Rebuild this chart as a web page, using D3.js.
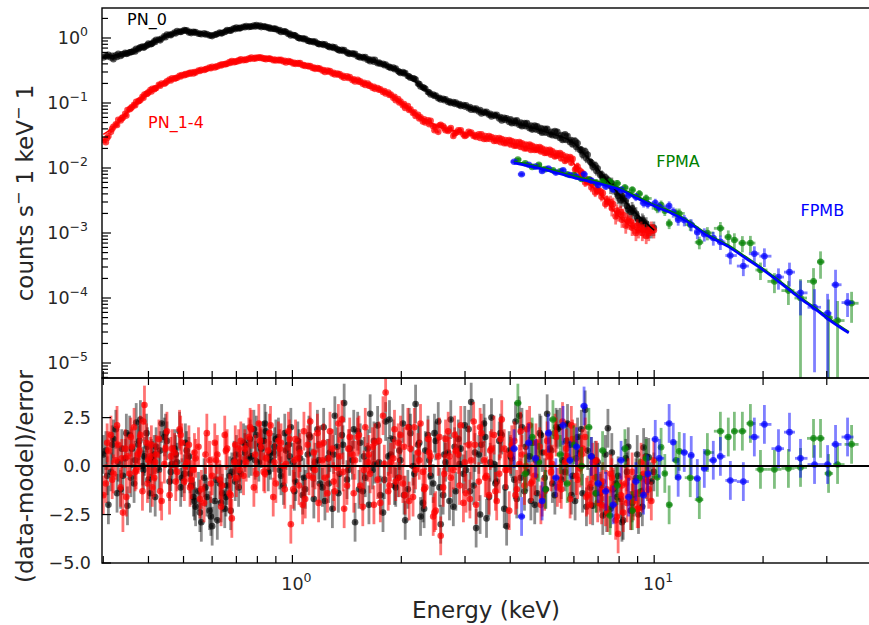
<!DOCTYPE html>
<html lang="en">
<head>
<meta charset="UTF-8">
<title>Spectrum PN + FPMA/FPMB</title>
<script src="https://d3js.org/d3.v7.min.js"></script>
<style>
    body { margin: 0; background: #ffffff; font-family: "DejaVu Sans", sans-serif; }
</style>
</head>
<body>
<div id="chart"></div>
<script>
// ---- data ----
// EPIC-pn energies (keV), shared by PN_0 and PN_1-4 (first grid)
const pnEnergy = [0.30, 0.31, 0.32, 0.33, 0.34, 0.35, 0.36, 0.37, 0.38, 0.39,
    0.40, 0.41, 0.42, 0.435, 0.45, 0.465, 0.48, 0.495, 0.51, 0.525,
    0.54, 0.56, 0.58, 0.60, 0.62, 0.64, 0.66, 0.68, 0.70, 0.72,
    0.745, 0.77, 0.795, 0.82, 0.845, 0.87, 0.90, 0.93, 0.96, 0.99,
    1.02, 1.05, 1.085, 1.12, 1.155, 1.19, 1.23, 1.27, 1.31, 1.35,
    1.39, 1.44, 1.49, 1.54, 1.59, 1.64, 1.69, 1.75, 1.81, 1.87,
    1.93, 1.99, 2.05, 2.12, 2.19, 2.26, 2.33, 2.41, 2.49, 2.57,
    2.65, 2.74, 2.83, 2.92, 3.02, 3.12, 3.22, 3.33, 3.44, 3.55,
    3.67, 3.79, 3.91, 4.04, 4.17, 4.31, 4.45, 4.60, 4.75, 4.90,
    5.06, 5.23, 5.40, 5.58, 5.76, 5.95, 6.14, 6.34, 6.55, 6.76,
    6.98, 7.21, 7.45, 7.70, 7.95, 8.21, 8.48, 8.76, 9.05, 9.35, 9.66, 9.98];
// second grid, between the channels of the first one
const pnEnergyB = [0.305, 0.315, 0.325, 0.335, 0.345, 0.355, 0.365, 0.375, 0.385, 0.395,
    0.405, 0.415, 0.4275, 0.4425, 0.4575, 0.4725, 0.4875, 0.5025, 0.5175, 0.5325,
    0.55, 0.57, 0.59, 0.61, 0.63, 0.65, 0.67, 0.69, 0.71, 0.7325,
    0.7575, 0.7825, 0.8075, 0.8325, 0.8575, 0.885, 0.915, 0.945, 0.975, 1.005,
    1.035, 1.0675, 1.1025, 1.1375, 1.1725, 1.21, 1.25, 1.29, 1.33, 1.37,
    1.415, 1.465, 1.515, 1.565, 1.615, 1.665, 1.72, 1.78, 1.84, 1.90,
    1.96, 2.02, 2.085, 2.155, 2.225, 2.295, 2.37, 2.45, 2.53, 2.61,
    2.695, 2.785, 2.875, 2.97, 3.07, 3.17, 3.275, 3.385, 3.495, 3.61,
    3.73, 3.85, 3.975, 4.105, 4.24, 4.38, 4.525, 4.675, 4.825, 4.98,
    5.145, 5.315, 5.49, 5.67, 5.855, 6.045, 6.24, 6.445, 6.655, 6.87,
    7.095, 7.33, 7.575, 7.825, 8.08, 8.345, 8.62, 8.905, 9.20, 9.505, 9.82];
// third grid
const pnEnergyC = [0.3075, 0.3175, 0.3275, 0.3375, 0.3475, 0.3575, 0.3675, 0.3775, 0.3875, 0.3975,
    0.4075, 0.4175, 0.431, 0.446, 0.461, 0.476, 0.491, 0.506, 0.521, 0.536,
    0.555, 0.575, 0.595, 0.615, 0.635, 0.655, 0.675, 0.695, 0.715, 0.739,
    0.764, 0.789, 0.814, 0.839, 0.864, 0.8925, 0.9225, 0.9525, 0.9825, 1.0125,
    1.043, 1.076, 1.111, 1.146, 1.181, 1.22, 1.26, 1.30, 1.34, 1.38,
    1.4275, 1.4775, 1.5275, 1.5775, 1.6275, 1.68, 1.735, 1.795, 1.855, 1.915,
    1.975, 2.035, 2.1025, 2.1725, 2.2425, 2.3125, 2.39, 2.47, 2.55, 2.63,
    2.7175, 2.8075, 2.8975, 2.995, 3.095, 3.195, 3.3025, 3.4125, 3.5225, 3.64,
    3.76, 3.88, 4.0075, 4.1375, 4.275, 4.415, 4.5625, 4.7125, 4.8625, 5.02,
    5.1875, 5.3575, 5.535, 5.715, 5.9025, 6.0925, 6.29, 6.4975, 6.7075, 6.925,
    7.1525, 7.39, 7.6375, 7.8875, 8.145, 8.4125, 8.69, 8.9775, 9.275, 9.5825];

const pn0Flux = [0.50, 0.55, 0.47, 0.57, 0.56, 0.58, 0.61, 0.68, 0.72, 0.73,
    0.82, 0.83, 0.94, 0.98, 1.13, 1.15, 1.28, 1.27, 1.31, 1.19,
    1.23, 1.14, 1.15, 1.07, 1.16, 1.19, 1.33, 1.35, 1.45, 1.42,
    1.53, 1.49, 1.58, 1.47, 1.49, 1.39, 1.38, 1.24, 1.23, 1.09,
    1.08, 0.98, 0.97, 0.88, 0.88, 0.80, 0.80, 0.72, 0.72, 0.64,
    0.65, 0.57, 0.57, 0.50, 0.51, 0.44, 0.46, 0.40, 0.39, 0.345,
    0.34, 0.29, 0.29, 0.245, 0.23, 0.18, 0.165, 0.135, 0.13, 0.113,
    0.114, 0.10, 0.102, 0.09, 0.092, 0.079, 0.082, 0.069, 0.073, 0.062,
    0.066, 0.054, 0.058, 0.049, 0.054, 0.044, 0.049, 0.039, 0.044, 0.035,
    0.040, 0.032, 0.036, 0.027, 0.031, 0.023, 0.024, 0.016, 0.016, 0.0105,
    0.0098, 0.0070, 0.0066, 0.0052, 0.0037, 0.0034, 0.0023, 0.0022, 0.0016, 0.0015, 0.0011, 0.0012];
const pn0FluxB = [0.53, 0.50, 0.54, 0.53, 0.59, 0.60, 0.64, 0.67, 0.74, 0.76,
    0.80, 0.89, 0.95, 1.06, 1.12, 1.21, 1.25, 1.33, 1.22, 1.25,
    1.16, 1.18, 1.09, 1.12, 1.21, 1.24, 1.31, 1.41, 1.40, 1.49,
    1.48, 1.55, 1.52, 1.51, 1.43, 1.40, 1.30, 1.26, 1.15, 1.11,
    1.02, 0.99, 0.91, 0.89, 0.83, 0.81, 0.75, 0.73, 0.67, 0.66,
    0.60, 0.58, 0.52, 0.51, 0.46, 0.46, 0.41, 0.40, 0.36, 0.35,
    0.31, 0.30, 0.26, 0.24, 0.20, 0.175, 0.148, 0.135, 0.118, 0.116,
    0.104, 0.103, 0.094, 0.093, 0.083, 0.082, 0.074, 0.073, 0.066, 0.066,
    0.058, 0.059, 0.051, 0.053, 0.046, 0.049, 0.041, 0.045, 0.037, 0.040,
    0.033, 0.037, 0.029, 0.033, 0.025, 0.026, 0.019, 0.018, 0.0125, 0.0110,
    0.0078, 0.0072, 0.0053, 0.0048, 0.0032, 0.0031, 0.0021, 0.0020, 0.0014, 0.0014, 0.0011];
const pn0FluxC = [0.52, 0.53, 0.51, 0.56, 0.57, 0.61, 0.62, 0.70, 0.71, 0.78,
    0.81, 0.87, 0.92, 1.03, 1.10, 1.18, 1.24, 1.29, 1.25, 1.21,
    1.17, 1.13, 1.10, 1.13, 1.18, 1.27, 1.29, 1.37, 1.43, 1.46,
    1.52, 1.50, 1.55, 1.48, 1.45, 1.38, 1.33, 1.27, 1.17, 1.10,
    1.00, 0.96, 0.90, 0.86, 0.81, 0.78, 0.74, 0.70, 0.66, 0.63,
    0.58, 0.56, 0.52, 0.49, 0.47, 0.43, 0.42, 0.38, 0.36, 0.33,
    0.30, 0.285, 0.255, 0.235, 0.195, 0.17, 0.145, 0.128, 0.120, 0.110,
    0.106, 0.097, 0.096, 0.088, 0.087, 0.078, 0.078, 0.070, 0.068, 0.063,
    0.061, 0.055, 0.056, 0.049, 0.050, 0.044, 0.045, 0.039, 0.041, 0.035,
    0.036, 0.031, 0.032, 0.027, 0.027, 0.021, 0.019, 0.014, 0.012, 0.0090,
    0.0080, 0.0060, 0.0057, 0.0042, 0.0037, 0.0026, 0.0024, 0.0017, 0.0016, 0.0012];

const pn14Flux = [0.027, 0.031, 0.043, 0.055, 0.060, 0.078, 0.087, 0.104, 0.112, 0.135,
    0.146, 0.165, 0.170, 0.20, 0.215, 0.24, 0.245, 0.27, 0.275, 0.295,
    0.295, 0.325, 0.335, 0.36, 0.365, 0.395, 0.40, 0.44, 0.43, 0.47,
    0.46, 0.50, 0.49, 0.50, 0.47, 0.48, 0.45, 0.46, 0.42, 0.43,
    0.40, 0.41, 0.37, 0.37, 0.335, 0.34, 0.30, 0.31, 0.275, 0.28,
    0.245, 0.25, 0.215, 0.215, 0.19, 0.185, 0.165, 0.162, 0.14, 0.135,
    0.11, 0.105, 0.084, 0.08, 0.063, 0.06, 0.05, 0.053, 0.043, 0.046,
    0.038, 0.041, 0.035, 0.038, 0.032, 0.035, 0.030, 0.033, 0.028, 0.030,
    0.026, 0.028, 0.024, 0.026, 0.022, 0.024, 0.020, 0.022, 0.019, 0.020,
    0.017, 0.018, 0.0155, 0.016, 0.0135, 0.0138, 0.0105, 0.0083, 0.0062, 0.0058,
    0.0045, 0.0041, 0.0030, 0.0028, 0.0020, 0.0019, 0.0015, 0.0013, 0.0011, 0.0011, 0.0010, 0.0011];
const pn14FluxB = [0.025, 0.036, 0.047, 0.054, 0.068, 0.080, 0.094, 0.106, 0.125, 0.138,
    0.158, 0.163, 0.190, 0.198, 0.230, 0.236, 0.262, 0.268, 0.290, 0.285,
    0.315, 0.322, 0.350, 0.352, 0.385, 0.392, 0.425, 0.425, 0.455, 0.455,
    0.485, 0.480, 0.505, 0.480, 0.485, 0.455, 0.460, 0.435, 0.440, 0.405,
    0.410, 0.380, 0.375, 0.345, 0.345, 0.315, 0.315, 0.285, 0.285, 0.255,
    0.258, 0.225, 0.228, 0.198, 0.200, 0.172, 0.170, 0.148, 0.145, 0.120,
    0.115, 0.092, 0.090, 0.070, 0.066, 0.052, 0.054, 0.044, 0.036, 0.044,
    0.037, 0.031, 0.038, 0.033, 0.036, 0.031, 0.033, 0.028, 0.031, 0.026,
    0.029, 0.024, 0.027, 0.022, 0.025, 0.020, 0.023, 0.019, 0.021, 0.017,
    0.019, 0.015, 0.017, 0.0128, 0.0148, 0.0095, 0.0090, 0.0060, 0.0064, 0.0042,
    0.0044, 0.0028, 0.0030, 0.0018, 0.0021, 0.0013, 0.0015, 0.0010, 0.0012, 0.0009, 0.0012];
const pn14FluxC = [0.029, 0.040, 0.046, 0.058, 0.064, 0.083, 0.092, 0.108, 0.120, 0.140,
    0.150, 0.168, 0.185, 0.205, 0.222, 0.243, 0.255, 0.278, 0.283, 0.300,
    0.310, 0.330, 0.342, 0.365, 0.378, 0.402, 0.415, 0.438, 0.445, 0.468,
    0.478, 0.498, 0.493, 0.488, 0.478, 0.468, 0.452, 0.445, 0.428, 0.415,
    0.400, 0.385, 0.365, 0.352, 0.335, 0.322, 0.302, 0.292, 0.272, 0.262,
    0.242, 0.232, 0.212, 0.205, 0.185, 0.178, 0.160, 0.153, 0.133, 0.125,
    0.102, 0.096, 0.078, 0.072, 0.058, 0.056, 0.047, 0.038, 0.045, 0.041,
    0.039, 0.034, 0.036, 0.031, 0.034, 0.032, 0.029, 0.031, 0.028, 0.029,
    0.025, 0.027, 0.023, 0.025, 0.021, 0.023, 0.019, 0.021, 0.018, 0.019,
    0.016, 0.017, 0.014, 0.015, 0.012, 0.0098, 0.0075, 0.0066, 0.0050, 0.0047,
    0.0036, 0.0033, 0.0024, 0.0022, 0.0016, 0.0016, 0.0012, 0.0013, 0.0010, 0.0011];

const pn0Resid = [0.6, -2.0, 1.4, 0.2, -0.5, -2.05, 0.9, 2.25, 2.4, 0.5,
    -0.7, 0.3, 1.0, 2.2, 1.3, 0.1, 0.2, -0.6, 0.8, -1.0,
    -2.1, -2.9, -1.6, -3.1, -2.8, -1.4, -1.0, -0.3, 0.6, -0.4,
    1.1, 0.5, 1.6, 0.9, 1.8, 0.3, 1.4, -0.5, 0.8, 2.0,
    -0.8, 0.4, -1.2, 1.5, 0.2, -0.9, -1.8, 0.7, 2.6, -0.4,
    3.25, 0.9, -2.9, 1.2, -0.6, 2.7, 0.1, -1.5, 2.3, 0.6,
    -1.1, 0.3, -2.8, 1.7, 3.2, -2.6, 0.8, -0.5, 1.3, -3.0,
    0.2, 2.4, -1.3, 0.9, -0.2, 3.3, -3.2, 1.1, -2.7, 2.5,
    -0.8, 1.6, -3.1, 0.4, -1.7, 2.0, -0.3, 1.2, -1.4, 0.7,
    2.7, -0.9, 1.9, 0.3, 2.2, -0.5, 1.5, -1.4, 0.8, -2.05,
    0.2, -2.55, 1.95, -1.2, -0.5, -2.8, 1.0, -1.6, -2.5, 0.96, 0.45, -0.3];
const pn0ResidB = [0.8, -0.3, 1.9, -1.2, 0.4, 1.6, -0.9, 1.1, 0.0, 1.7,
    -1.4, 0.6, -0.2, 1.5, -0.8, 0.9, 1.8, -0.4, 0.5, -1.6,
    -1.3, -0.6, -2.3, -1.8, -0.9, -2.2, -0.5, 0.3, -1.1, 1.2,
    0.4, 1.9, 0.2, 1.3, -0.3, 0.7, 1.5, -1.0, 1.1, 0.2,
    1.3, -1.5, 0.6, -0.1, 1.9, -1.1, 0.4, -2.2, 1.0, 1.6,
    -0.7, 0.3, 1.8, -1.3, 0.9, -0.2, 2.1, -2.4, 0.5, 1.4,
    -0.6, 2.2, -1.2, 0.0, 1.1, -1.9, 1.6, -0.9, 2.3, -1.5,
    0.7, -2.1, 1.4, -0.4, 1.9, -1.0, 0.6, 2.2, -1.6, 0.1,
    1.3, -2.2, 0.8, -0.7, 2.6, -1.3, 0.5, -2.0, 1.7, -0.6,
    0.9, -1.5, 2.0, -0.3, 1.1, -1.8, 0.7, 2.9, -1.1, 0.3,
    -1.4, 0.6, -2.2, -0.9, -1.7, 0.4, -2.3, -0.6, -1.3, 0.5, -0.8];
const pn0ResidC = [-0.5, 1.1, -1.4, 0.9, 1.7, -0.6, 0.3, 1.3, -0.2, 1.0,
    0.4, -1.6, 0.8, 1.7, -0.3, 0.6, -1.1, 1.2, -0.4, -1.8,
    -2.4, -1.1, -2.6, -0.7, -1.9, -1.6, -2.3, -0.8, 0.2, 0.7,
    1.4, 0.3, 1.1, 2.2, 0.6, 1.0, -0.2, 1.7, 0.5, -1.3,
    0.9, -0.6, 1.6, -1.7, 0.3, 2.0, -0.9, 0.6, -1.4, 1.1,
    -0.2, 1.9, -1.2, 0.5, -2.0, 1.3, 0.2, -0.7, 2.4, -1.0,
    0.8, -1.5, 2.0, -0.4, 1.2, -2.2, 0.3, 1.7, -1.1, 0.6,
    -1.8, 1.0, 0.1, 2.1, -1.3, 0.7, -2.5, 1.5, 0.2, -0.9,
    1.7, -1.1, 0.5, 2.3, -0.6, 1.0, -1.8, 0.3, 1.6, -1.2,
    0.8, 2.0, -0.7, 1.3, -1.5, 0.4, 1.9, -2.1, 0.5, -1.4,
    -1.0, -2.4, 0.7, -1.6, -2.9, -0.3, -1.9, 0.6, -2.1, -0.8];

const pn14Resid = [-1.5, 0.8, -0.4, 1.1, -2.4, 0.5, 1.0, -0.2, 1.6, 3.15,
    0.3, -1.1, 0.6, -1.8, 1.8, 0.9, -0.3, 1.2, 0.2, -0.7,
    0.4, -1.2, 1.7, -0.5, 0.6, -1.0, 0.9, -2.7, -0.6, 1.3,
    0.2, 1.9, -0.4, 1.0, 0.4, 2.1, -0.9, 1.2, 0.1, -3.0,
    1.4, 0.7, -1.7, 2.3, -0.2, 1.1, -0.6, 1.8, -1.3, 0.5,
    -2.2, 1.5, 0.3, -1.0, 2.0, -0.4, 1.2, -1.9, 3.8, 0.2,
    -0.8, 1.6, -1.5, 0.9, -0.2, 2.2, -1.1, 0.5, -2.3, -3.6,
    1.4, -0.6, 0.8, 2.1, -1.4, 0.3, -2.0, 1.7, -0.5, 0.9,
    -1.8, 2.4, -0.2, 1.1, -1.2, 0.6, 1.9, -0.8, 0.4, -1.6,
    1.3, 0.1, -1.1, 2.3, 0.5, 1.4, -0.7, 0.9, -1.5, 0.2,
    -1.9, -0.8, -2.4, -1.1, -3.5, -2.4, -0.6, -1.8, -2.2, -0.4, -1.2, 0.3];
const pn14ResidB = [-0.9, 1.6, 0.3, -1.1, 0.9, -0.4, 2.0, 0.6, -1.3, 1.2,
    0.5, -0.6, 1.4, 0.1, -1.5, 0.7, 1.9, -0.8, 1.1, -0.2,
    1.0, -1.9, 0.3, 1.2, -0.7, 1.6, -1.4, 0.2, 0.9, -0.5,
    1.5, -1.1, 2.2, -0.3, 0.8, -1.6, 1.3, 0.0, 1.8, -1.2,
    0.4, -2.0, 1.1, -0.6, 1.7, 0.3, -1.4, 0.9, -0.1, 2.4,
    -1.0, 0.6, 1.5, -2.1, 0.2, 1.0, -0.7, 2.6, -1.3, 0.4,
    1.2, -0.9, 2.0, -1.6, 0.7, -0.3, 1.4, -2.6, 0.5, -1.1,
    1.8, -0.2, 0.6, -1.9, 1.1, 2.3, -0.8, 0.3, -1.5, 1.6,
    -0.4, 0.9, -2.3, 1.3, 0.1, -1.0, 2.1, -0.5, 1.0, -1.3,
    0.5, 1.7, -0.9, 0.2, -1.7, 1.2, -0.1, 1.5, -2.0, -0.6,
    -1.3, -2.1, -0.4, -2.8, -1.5, -0.9, -2.3, -1.4, 0.2, -0.7, -1.8];
const pn14ResidC = [1.2, -0.7, 2.1, 0.4, -1.6, 1.5, -0.3, 0.8, 2.3, -0.9,
    1.1, 0.2, -1.3, 0.9, 0.5, -0.8, 1.6, 0.0, -1.1, 0.7,
    -1.7, 0.6, -0.9, 0.3, -2.1, 0.8, -1.5, 1.1, -0.2, 0.9,
    2.0, 0.6, 1.3, -0.4, 1.7, 0.2, 0.9, -1.2, 1.4, 0.3,
    -1.0, 1.8, -0.5, 0.7, -1.9, 1.2, 0.4, -0.8, 2.2, -0.3,
    0.9, -1.4, 1.6, -0.2, 0.6, -2.0, 1.3, 0.1, -1.0, 1.9,
    -0.6, 1.0, -1.8, 2.0, 0.3, -1.2, 0.7, -2.4, 1.5, -0.4,
    0.5, 1.6, -1.0, 0.2, -1.7, 1.1, 2.0, -0.6, 0.8, -1.3,
    1.4, -0.2, 0.6, -1.5, 1.8, 0.0, -0.9, 1.2, -2.0, 0.7,
    -0.3, 1.5, -1.2, 0.9, 2.1, -0.5, 0.6, -1.6, -0.9, 0.3,
    -2.0, -1.2, -0.6, -2.6, -1.0, -1.9, -0.3, -2.2, -1.4, -0.5];

// fractional flux error of the pn points, by band starting at the given keV
const pnRelErr = [[0.3, 0.04], [2.0, 0.05], [4.0, 0.08], [6.0, 0.15], [7.5, 0.25]];

// NuSTAR FPMA
const fpmaEnergy = [4.2, 4.4, 4.6, 4.8, 5.0, 5.25, 5.5, 5.75, 6.0, 6.3,
    6.6, 6.9, 7.2, 7.55, 7.9, 8.3, 8.7, 9.1, 9.5,
    10.2, 10.45, 10.7, 11.0, 11.5, 11.73, 12.58, 13.33, 14.03, 15.24,
    16.03, 16.66, 17.53, 18.45, 19.67, 21.5, 23.5, 25.38, 27.57, 28.83,
    30.34, 32.13, 35.13];
const fpmaFlux = [0.0135, 0.0118, 0.0104, 0.0112, 0.0096, 0.0092, 0.0089, 0.0080, 0.0078, 0.0068,
    0.0067, 0.0060, 0.0062, 0.0062, 0.0058, 0.0050, 0.0046, 0.0040, 0.0034,
    0.0024, 0.0027, 0.0022, 0.0014, 0.0020, 0.0020, 0.00135, 0.00072, 0.00100, 0.00118,
    0.00087, 0.00078, 0.00070, 0.00070, 0.00027, 0.00018, 0.00013, 0.000100, 0.00018, 0.00036,
    0.000050, 0.000045, 0.000083];
const fpmaRelErr = [0.06, 0.07, 0.07, 0.07, 0.08, 0.08, 0.08, 0.09, 0.09, 0.09,
    0.10, 0.10, 0.11, 0.11, 0.12, 0.12, 0.13, 0.14, 0.15,
    0.16, 0.17, 0.17, 0.18, 0.19, 0.19, 0.20, 0.22, 0.23, 0.25,
    0.26, 0.27, 0.28, 0.29, 0.30, 0.34, 0.40, 0.95, 0.60, 0.45,
    0.90, 1.00, 0.50];
const fpmaResid = [3.25, -0.4, 1.5, 0.2, -1.2, 2.4, 0.6, -0.9, 1.1, 0.0,
    2.0, -1.4, 0.8, -2.55, -1.0, 0.9, -2.3, -0.6, 0.4,
    -0.58, 0.97, -0.38, -2.0, 0.3, 0.76, -0.6, -1.73, 0.7, 1.8,
    1.5, 1.8, 1.8, 2.2, -0.17, -0.17, -0.12, -0.07, 1.43, 1.43,
    -0.38, 0.08, 1.12];

// NuSTAR FPMB
const fpmbEnergy = [4.1, 4.3, 4.5, 4.7, 4.9, 5.1, 5.35, 5.6, 5.85, 6.1,
    6.4, 6.7, 7.0, 7.35, 7.7, 8.1, 8.5, 8.9, 9.35, 9.6,
    10.07, 10.33, 11.0, 11.29, 11.65, 12.11, 12.66, 13.16, 13.76, 14.57,
    15.24, 16.24, 17.64, 18.92, 20.17, 22.06, 23.66, 25.38, 27.75, 30.15,
    31.72, 34.24];
const fpmbFlux = [0.0125, 0.0080, 0.0112, 0.0105, 0.0090, 0.0098, 0.0085, 0.0092, 0.0078, 0.0074,
    0.0080, 0.0064, 0.0055, 0.0052, 0.0047, 0.0046, 0.0038, 0.0036, 0.0029, 0.0028,
    0.0029, 0.0025, 0.0026, 0.0021, 0.0016, 0.00158, 0.00134, 0.00103, 0.00096, 0.00084,
    0.00073, 0.00045, 0.00031, 0.00048, 0.00044, 0.00021, 0.00025, 0.00012, 0.000072, 0.000058,
    0.00016, 0.000085];
const fpmbRelErr = [0.06, 0.07, 0.07, 0.07, 0.08, 0.08, 0.08, 0.09, 0.09, 0.09,
    0.10, 0.10, 0.11, 0.11, 0.12, 0.12, 0.13, 0.14, 0.15, 0.15,
    0.16, 0.17, 0.18, 0.18, 0.19, 0.20, 0.21, 0.22, 0.23, 0.24,
    0.25, 0.27, 0.30, 0.30, 0.32, 0.36, 0.40, 0.55, 0.90, 1.00,
    0.70, 0.40];
const fpmbResid = [0.9, -2.6, 1.2, 0.4, -1.8, 1.7, -0.6, 2.1, 0.3, 1.0,
    3.1, 0.5, -0.9, -1.3, -2.0, 0.3, -1.6, -0.8, -1.5, -0.4,
    1.38, 0.4, 2.2, 1.23, -0.58, 0.7, 0.55, -0.64, -0.12, 0.3,
    0.5, -0.74, -0.8, 1.5, 2.15, 0.9, 1.75, 0.4, 0.08, 0.08,
    1.12, 1.5];

// best-fit model curves [keV, counts/s/keV]
const pn0Model = [[0.3, 0.52], [0.35, 0.58], [0.4, 0.80], [0.45, 1.10], [0.5, 1.27], [0.55, 1.20],
    [0.6, 1.12], [0.65, 1.25], [0.7, 1.42], [0.8, 1.53], [0.9, 1.36], [1.0, 1.12], [1.2, 0.80],
    [1.5, 0.54], [1.8, 0.38], [2.1, 0.26], [2.3, 0.165], [2.5, 0.125], [3.0, 0.09], [3.5, 0.067],
    [4.0, 0.052], [5.0, 0.036], [6.0, 0.024], [6.5, 0.015], [7.0, 0.0095], [7.5, 0.0060],
    [8.0, 0.0039], [9.0, 0.0019], [10.0, 0.0011]];
const pn14Model = [[0.3, 0.033], [0.32, 0.042], [0.35, 0.072], [0.4, 0.145], [0.45, 0.215],
    [0.5, 0.27], [0.6, 0.355], [0.7, 0.44], [0.8, 0.50], [0.9, 0.46], [1.0, 0.42], [1.2, 0.33],
    [1.5, 0.22], [1.8, 0.145], [2.0, 0.10], [2.2, 0.068], [2.5, 0.045], [3.0, 0.034], [4.0, 0.024],
    [5.0, 0.017], [5.9, 0.013], [6.3, 0.0072], [7.0, 0.0043], [8.0, 0.0018], [9.0, 0.0011], [10.0, 0.0010]];
const fpmaModel = [[4.1, 0.0126], [5.0, 0.0099], [6.0, 0.0075], [7.0, 0.0061], [8.0, 0.0049],
    [9.0, 0.0036], [10.0, 0.0027], [11.0, 0.0022], [12.0, 0.00172], [14.0, 0.00096], [16.0, 0.00065],
    [18.0, 0.00042], [20.0, 0.00028], [22.5, 0.000172], [25.0, 0.000108], [28.0, 0.000069],
    [31.0, 0.000045], [34.5, 0.000030]];
const fpmbModel = [[4.1, 0.0120], [5.0, 0.0094], [6.0, 0.0071], [7.0, 0.0058], [8.0, 0.0047],
    [9.0, 0.0034], [10.0, 0.0026], [11.0, 0.0021], [12.0, 0.00165], [14.0, 0.00092], [16.0, 0.00062],
    [18.0, 0.00040], [20.0, 0.00027], [22.5, 0.000165], [25.0, 0.000104], [28.0, 0.000066],
    [31.0, 0.000043], [34.5, 0.000029]];

// ---- layout ----
const W = 869, H = 625;
const pLeft = 102, pRight = 870, pTop = 8, pMid = 378, pBottom = 563;

const svg = d3.select("#chart").append("svg")
    .attr("width", W).attr("height", H)
    .style("font-family", "'DejaVu Sans', sans-serif");

const x = d3.scaleLog().domain([0.2976, 39.5]).range([pLeft, pRight]);
const yTop = d3.scaleLog().domain([5.88e-6, 2.894]).range([pMid, pTop]);
const yRes = d3.scaleLinear().domain([-5, 4.57]).range([pBottom, pMid - 0.5]);

const defs = svg.append("defs");
defs.append("clipPath").attr("id", "clipTop").append("rect")
    .attr("x", pLeft).attr("y", pTop).attr("width", pRight - pLeft).attr("height", pMid - pTop);
defs.append("clipPath").attr("id", "clipRes").append("rect")
    .attr("x", pLeft).attr("y", pMid).attr("width", pRight - pLeft).attr("height", pBottom - pMid);

const gTop = svg.append("g").attr("clip-path", "url(#clipTop)");
const gRes = svg.append("g").attr("clip-path", "url(#clipRes)");

function pnErr(e) {
    let f = pnRelErr[0][1];
    pnRelErr.forEach(([e0, v]) => { if (e >= e0) f = v; });
    return f;
}

// rows sorted by energy, bin edges taken half way to the neighbouring channels
function makeRows(energy, flux, relErr, resid) {
    const rows = energy.map((e, i) => ({
        e: e,
        f: flux[i],
        df: flux[i] * (typeof relErr === "function" ? relErr(e) : relErr[i]),
        r: resid[i]
    })).sort((a, b) => a.e - b.e);
    rows.forEach((d, i) => {
        const prev = i > 0 ? rows[i - 1].e : d.e * d.e / rows[i + 1].e;
        const next = i < rows.length - 1 ? rows[i + 1].e : d.e * d.e / rows[i - 1].e;
        d.lo = Math.sqrt(prev * d.e);
        d.hi = Math.sqrt(next * d.e);
    });
    return rows;
}

const pnAll = pnEnergy.concat(pnEnergyB, pnEnergyC);
const series = [
    { color: "#000000", model: pn0Model, lw: 1.5, dot: 0.66, bar: 0.45,
      rows: makeRows(pnAll, pn0Flux.concat(pn0FluxB, pn0FluxC), pnErr, pn0Resid.concat(pn0ResidB, pn0ResidC)) },
    { color: "#ff0000", model: pn14Model, lw: 1.5, dot: 0.72, bar: 0.55,
      rows: makeRows(pnAll, pn14Flux.concat(pn14FluxB, pn14FluxC), pnErr, pn14Resid.concat(pn14ResidB, pn14ResidC)) },
    { color: "#008000", model: fpmaModel, lw: 2.2, dot: 0.7, bar: 0.5,
      rows: makeRows(fpmaEnergy, fpmaFlux, fpmaRelErr, fpmaResid) },
    { color: "#0000ff", model: fpmbModel, lw: 2.6, dot: 0.7, bar: 0.5,
      rows: makeRows(fpmbEnergy, fpmbFlux, fpmbRelErr, fpmbResid) }
];

const yMin = yTop.domain()[0];

function drawPoints(g, s, yv, ylo, yhi) {
    const grp = g.append("g");
    grp.selectAll("line.v").data(s.rows).enter().append("line")
        .attr("x1", d => x(d.e)).attr("x2", d => x(d.e))
        .attr("y1", ylo).attr("y2", yhi)
        .attr("stroke", s.color).attr("stroke-opacity", s.bar).attr("stroke-width", 2.8);
    grp.selectAll("line.h").data(s.rows).enter().append("line")
        .attr("x1", d => x(d.lo)).attr("x2", d => x(d.hi))
        .attr("y1", yv).attr("y2", yv)
        .attr("stroke", s.color).attr("stroke-opacity", s.bar).attr("stroke-width", 2.8);
    grp.selectAll("circle").data(s.rows).enter().append("circle")
        .attr("cx", d => x(d.e)).attr("cy", yv).attr("r", 3.3)
        .attr("fill", s.color).attr("fill-opacity", s.dot);
}

series.forEach(s => {
    drawPoints(gTop, s,
        d => yTop(d.f),
        d => yTop(Math.max(d.f - d.df, yMin)),
        d => yTop(d.f + d.df));
    drawPoints(gRes, s,
        d => yRes(d.r),
        d => yRes(d.r - 1),
        d => yRes(d.r + 1));
});

const modelLine = d3.line()
    .x(d => x(d[0])).y(d => yTop(d[1]))
    .curve(d3.curveMonotoneX);

series.forEach(s => {
    gTop.append("path").datum(s.model)
        .attr("d", modelLine)
        .attr("fill", "none")
        .attr("stroke", s.color)
        .attr("stroke-width", s.lw);
});

// zero line of the residuals
gRes.append("line")
    .attr("x1", pLeft).attr("x2", pRight)
    .attr("y1", yRes(0)).attr("y2", yRes(0))
    .attr("stroke", "#000").attr("stroke-width", 2);

// ---- frames and ticks ----
[[pTop, pMid], [pMid, pBottom]].forEach(([y0, y1]) => {
    svg.append("rect")
        .attr("x", pLeft).attr("y", y0)
        .attr("width", pRight - pLeft).attr("height", y1 - y0)
        .attr("fill", "none").attr("stroke", "#000").attr("stroke-width", 1.4);
});

const xTicks = [];
for (let k = -1; k <= 1; k++) {
    for (let m = 1; m <= 9; m++) {
        const v = m * Math.pow(10, k);
        if (v >= x.domain()[0] && v <= x.domain()[1]) xTicks.push({ v: v, major: m === 1 });
    }
}
const ticks = svg.append("g").attr("stroke", "#000").attr("stroke-width", 1.2);
xTicks.forEach(t => {
    const px = x(t.v);
    const len = t.major ? 8 : 7;
    ticks.append("line").attr("x1", px).attr("x2", px).attr("y1", pMid).attr("y2", pMid - len);
    ticks.append("line").attr("x1", px).attr("x2", px).attr("y1", pMid).attr("y2", pMid + len);
    ticks.append("line").attr("x1", px).attr("x2", px).attr("y1", pBottom).attr("y2", pBottom - len);
});

for (let k = -6; k <= 0; k++) {
    for (let m = 1; m <= 9; m++) {
        const v = m * Math.pow(10, k);
        if (v < yTop.domain()[0] || v > yTop.domain()[1]) continue;
        const py = yTop(v);
        ticks.append("line").attr("x1", pLeft).attr("x2", pLeft + (m === 1 ? 9 : 6))
            .attr("y1", py).attr("y2", py);
    }
}
[-5, -2.5, 0, 2.5].forEach(v => {
    ticks.append("line").attr("x1", pLeft).attr("x2", pLeft + 9)
        .attr("y1", yRes(v)).attr("y2", yRes(v));
});

// tick labels
const labels = svg.append("g").attr("fill", "#262626");
[0, -1, -2, -3, -4, -5].forEach(k => {
    const t = labels.append("text")
        .attr("x", 88).attr("y", yTop(Math.pow(10, k)) + 6)
        .attr("text-anchor", "end").style("font-size", "17.5px");
    t.append("tspan").text("10");
    t.append("tspan").attr("dy", -8).style("font-size", "12.5px")
        .text(k === 0 ? "0" : "\u2212" + (-k));
});
[-5, -2.5, 0, 2.5].forEach(v => {
    labels.append("text")
        .attr("x", 91).attr("y", yRes(v) + 6)
        .attr("text-anchor", "end").style("font-size", "17.5px")
        .text(d3.format(".1f")(v).replace("-", "\u2212"));
});
[1, 10].forEach((v, i) => {
    const t = labels.append("text")
        .attr("x", x(v) + 4).attr("y", 590)
        .attr("text-anchor", "middle").style("font-size", "17.5px");
    t.append("tspan").text("10");
    t.append("tspan").attr("dy", -8).style("font-size", "12.5px").text(String(i));
});

// axis titles
labels.append("text")
    .attr("x", 486).attr("y", 618)
    .attr("text-anchor", "middle").style("font-size", "23px")
    .text("Energy (keV)");

const yl = labels.append("text")
    .attr("transform", `translate(33,${(pTop + pMid) / 2}) rotate(-90)`)
    .attr("text-anchor", "middle").style("font-size", "23px");
yl.append("tspan").text("counts s");
yl.append("tspan").attr("dy", -9).style("font-size", "16px").text("\u2212");
yl.append("tspan").attr("dy", 9).text(" 1 keV");
yl.append("tspan").attr("dy", -9).style("font-size", "16px").text("\u2212");
yl.append("tspan").attr("dy", 9).text(" 1");

labels.append("text")
    .attr("transform", `translate(33,${(pMid + pBottom) / 2 + 6}) rotate(-90)`)
    .attr("text-anchor", "middle").style("font-size", "23px")
    .text("(data-model)/error");

// instrument labels
const notes = [
    { text: "PN_0", color: "#000000", e: 0.349, f: 1.58 },
    { text: "PN_1-4", color: "#ff0000", e: 0.399, f: 0.0412 },
    { text: "FPMA", color: "#008000", e: 10.13, f: 0.01036 },
    { text: "FPMB", color: "#0000ff", e: 25.38, f: 0.00183 }
];
svg.selectAll("text.note").data(notes).enter().append("text")
    .attr("class", "note")
    .attr("x", d => x(d.e)).attr("y", d => yTop(d.f))
    .attr("fill", d => d.color)
    .style("font-size", "16px")
    .text(d => d.text);
</script>
</body>
</html>
